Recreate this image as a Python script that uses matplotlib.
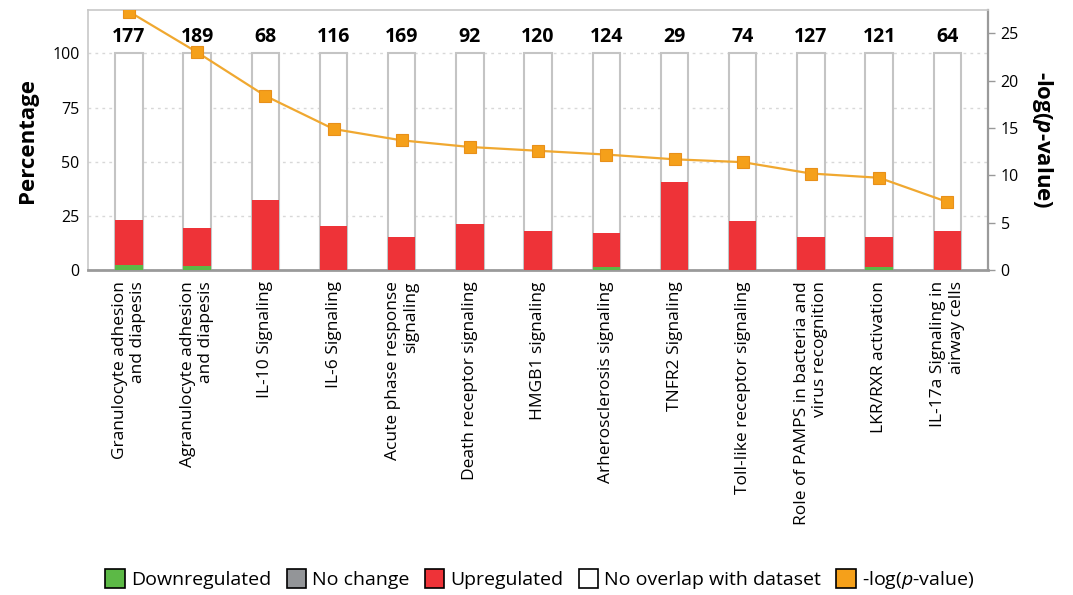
import matplotlib
matplotlib.use("Agg")
import matplotlib.pyplot as plt
from matplotlib.patches import Patch
import numpy as np

plt.rcParams['font.family'] = ['Open Sans', 'DejaVu Sans']
plt.rcParams['mathtext.fontset'] = 'custom'
plt.rcParams['mathtext.it'] = 'Open Sans:italic'
plt.rcParams['mathtext.bf'] = 'Open Sans:bold:italic'
plt.rcParams['mathtext.rm'] = 'Open Sans'

pathways = [
    "Granulocyte adhesion\nand diapesis",
    "Agranulocyte adhesion\nand diapesis",
    "IL-10 Signaling",
    "IL-6 Signaling",
    "Acute phase response\nsignaling",
    "Death receptor signaling",
    "HMGB1 signaling",
    "Arherosclerosis signaling",
    "TNFR2 Signaling",
    "Toll-like receptor signaling",
    "Role of PAMPS in bacteria and\nvirus recognition",
    "LKR/RXR activation",
    "IL-17a Signaling in\nairway cells",
]
counts = [177, 189, 68, 116, 169, 92, 120, 124, 29, 74, 127, 121, 64]
down = [2.3, 2.1, 0, 0, 0, 0, 0, 1.5, 0, 0, 0, 1.5, 0]
up = [20.8, 17.4, 32.3, 20.3, 15.4, 21.4, 18.1, 15.7, 40.8, 22.5, 15.4, 13.9, 18.1]
neg_log_p = [27.3, 23.0, 18.4, 14.9, 13.7, 13.0, 12.6, 12.2, 11.7, 11.4, 10.2, 9.75, 7.2]

c_down = "#5cb946"
c_none = "#939598"
c_up = "#ee3338"
c_line = "#f0a830"
c_marker = "#f5a01a"

fig = plt.figure(figsize=(10.73, 5.95), dpi=100)
ax = fig.add_axes([0.082, 0.546, 0.839, 0.437])
x = np.arange(len(pathways))
w = 0.4

ax.bar(x, 100, w, color="white", edgecolor="#c4c4c4", linewidth=1.5, zorder=2)
ax.bar(x, down, w, color=c_down, zorder=3)
ax.bar(x, up, w, bottom=down, color=c_up, zorder=3)

for xi, n in zip(x, counts):
    ax.text(xi, 107.5, str(n), ha="center", va="center", fontsize=14,
            fontweight="bold", zorder=4)

ax.set_ylim(0, 120)
ax.set_xlim(-0.6, len(pathways) - 0.4)
ax.set_yticks([0, 25, 50, 75, 100])
ax.yaxis.grid(True, linestyle=(0, (2, 3)), color="#d8d8d8", linewidth=1)
ax.set_axisbelow(True)
ax.set_xticks(x)
ax.set_xticklabels(pathways, rotation=90, fontsize=12.5, ha="center", va="top",
                   multialignment="right")
ax.tick_params(axis="y", labelsize=11.5, length=0, pad=6)
ax.tick_params(axis="x", length=0, pad=8)
ax.set_ylabel("Percentage", fontsize=16, fontweight="bold", labelpad=10)
for s in ["top", "left", "right"]:
    ax.spines[s].set_color("#c8c8c8")
    ax.spines[s].set_linewidth(1.2)
ax.spines["bottom"].set_color("#9a9a9a")
ax.spines["bottom"].set_linewidth(2)

ax2 = ax.twinx()
ax2.plot(x, neg_log_p, color=c_line, linewidth=1.6, marker="s", markersize=9,
         markerfacecolor=c_marker, markeredgecolor="#e8901a", markeredgewidth=0.8,
         zorder=5, clip_on=True)
ax2.set_ylim(0, 27.45)
ax2.set_yticks([0, 5, 10, 15, 20, 25])
ax2.tick_params(axis="y", labelsize=11.5, length=5, width=1, color="#999999", pad=4)
ax2.set_ylabel(r"-log($\mathbf{p}$-value)", fontsize=16, fontweight="bold",
               rotation=270, labelpad=26)
for s in ["top", "left", "right", "bottom"]:
    ax2.spines[s].set_visible(False)
ax.spines["right"].set_color("#9a9a9a")
ax.spines["right"].set_linewidth(1.6)

handles = [
    Patch(facecolor=c_down, edgecolor="black", linewidth=1.2),
    Patch(facecolor=c_none, edgecolor="black", linewidth=1.2),
    Patch(facecolor=c_up, edgecolor="black", linewidth=1.2),
    Patch(facecolor="white", edgecolor="black", linewidth=1.2),
    Patch(facecolor=c_marker, edgecolor="black", linewidth=1.2),
]
labels = ["Downregulated", "No change", "Upregulated", "No overlap with dataset",
          r"-log($\mathit{p}$-value)"]
fig.legend(handles, labels, loc="center", bbox_to_anchor=(0.503, 0.025), ncol=5,
           frameon=False, fontsize=14, handlelength=1.0, handleheight=1.1,
           handletextpad=0.3, columnspacing=0.8, borderaxespad=0)

fig.savefig("out.png", dpi=100)
